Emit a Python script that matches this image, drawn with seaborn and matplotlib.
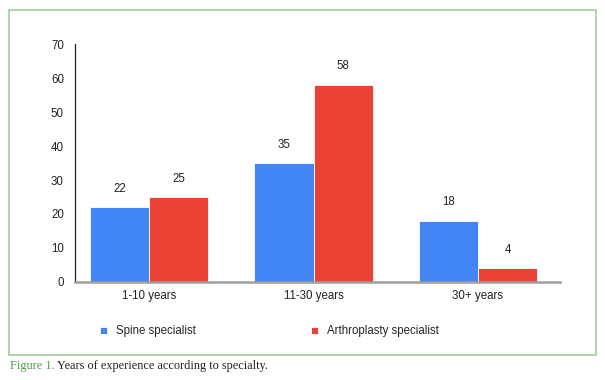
import matplotlib
matplotlib.use("Agg")
import matplotlib.pyplot as plt
from matplotlib.patches import Rectangle
import seaborn as sns
import pandas as pd

# data
groups = ["1-10 years", "11-30 years", "30+ years"]
spine = [22, 35, 18]
arthro = [25, 58, 4]
series = ["Spine specialist", "Arthroplasty specialist"]
colors = ["#4285F4", "#EA4335"]

df = pd.DataFrame({
    "group": groups * 2,
    "value": spine + arthro,
    "specialty": [series[0]] * 3 + [series[1]] * 3,
})

sns.set_style("white")
plt.rcParams["font.family"] = ["Liberation Sans", "DejaVu Sans"]

fig = plt.figure(figsize=(6.05, 3.8), dpi=100)
ax = fig.add_axes([0.124, 0.258, 0.802, 0.626])

sns.barplot(data=df, x="group", y="value", hue="specialty", palette=colors,
            width=0.72, saturation=1, edgecolor="white", linewidth=0.6, ax=ax)

# value labels above bars
for cont in ax.containers:
    ax.bar_label(cont, padding=9, fontsize=8.3, color="#222222")

ax.set_ylim(0, 70)
ax.set_yticks(range(0, 71, 10))
ax.set_xlim(-0.45, 2.5)
ax.set_xlabel("")
ax.set_ylabel("")
ax.tick_params(axis="both", length=0, labelsize=8.3, colors="#222222")
ax.tick_params(axis="y", pad=8)
ax.tick_params(axis="x", pad=6)
sns.despine(ax=ax)
ax.spines["left"].set_color("#222222")
ax.spines["left"].set_linewidth(0.9)
ax.spines["bottom"].set_color("#9e9e9e")
ax.spines["bottom"].set_linewidth(1.8)

ax.legend_.remove()
handles, labels = ax.get_legend_handles_labels()
fig.legend(handles, labels, loc="center left", bbox_to_anchor=(0.148, 0.128), ncol=2,
           frameon=False, fontsize=8.3, handlelength=0.6, handleheight=0.6,
           handletextpad=0.8, columnspacing=10)

# green frame around chart
fig.patches.append(Rectangle((9 / 605, 1 - 355 / 380), 587 / 605, 345 / 380,
                             transform=fig.transFigure, fill=False,
                             edgecolor="#9dcf9d", linewidth=1.2))

# caption
serif = ["Liberation Serif", "DejaVu Serif"]
fig.text(10 / 605, 1 - 366 / 380, "Figure 1.", color="#4f9a4f", fontsize=8.8,
         family=serif, va="center")
fig.text(57 / 605, 1 - 366 / 380, "Years of experience according to specialty.",
         color="#222222", fontsize=8.8, family=serif, va="center")

fig.savefig("out.png", dpi=100, facecolor="white")
